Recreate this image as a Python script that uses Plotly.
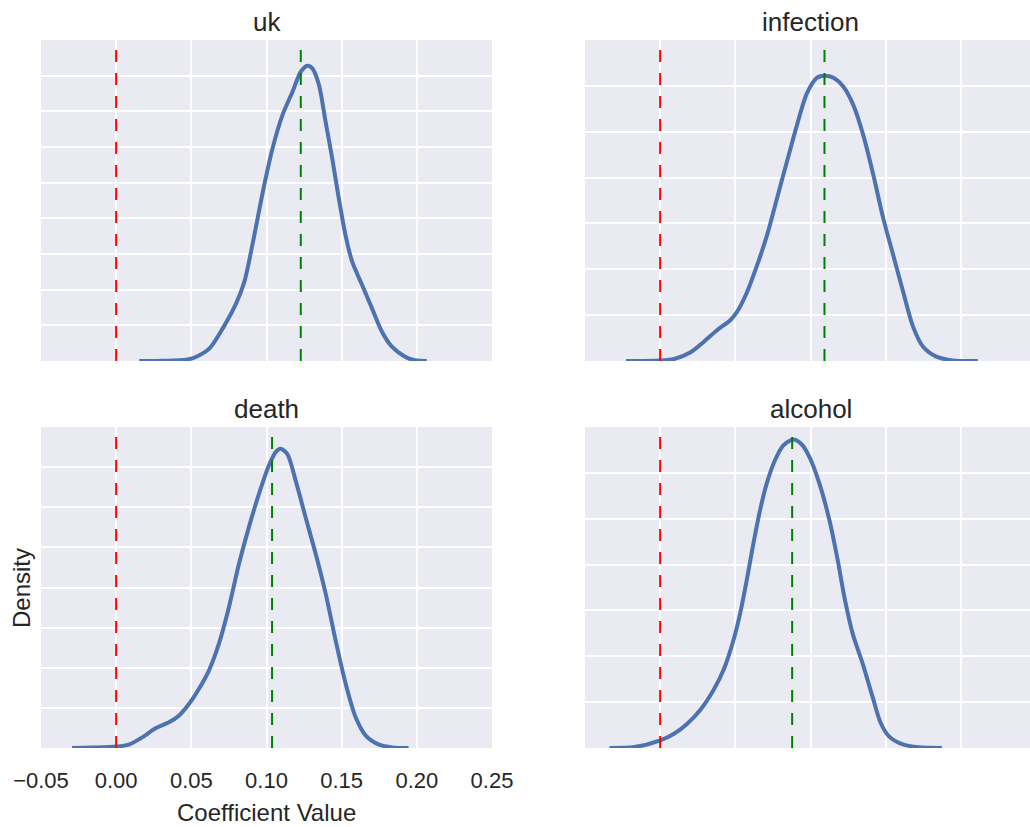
import plotly.graph_objects as go

W, H = 1030, 827

# ---- data ----
panel_names = ["uk", "infection", "death", "alcohol"]

uk_x = [0.0154, 0.0313, 0.0467, 0.0533, 0.0621, 0.0709, 0.0798, 0.0853, 0.0897, 0.0941,
        0.0985, 0.1040, 0.1106, 0.1173, 0.1228, 0.1272, 0.1305, 0.1349, 0.1393, 0.1437,
        0.1481, 0.1525, 0.1570, 0.1636, 0.1702, 0.1768, 0.1834, 0.1922, 0.1988, 0.2066]
uk_y = [0.0, 0.01, 0.07, 0.24, 0.71, 1.83, 3.23, 4.45, 6.13, 8.0,
        9.87, 11.92, 13.79, 15.1, 16.22, 16.56, 16.41, 15.48, 13.42, 11.36,
        9.12, 7.07, 5.57, 4.26, 2.95, 1.64, 0.80, 0.24, 0.04, 0.0]

infection_x = [-0.0227, 0.0, 0.0093, 0.0203, 0.0291, 0.0380, 0.0468, 0.0512, 0.0579, 0.0645,
               0.0711, 0.0777, 0.0843, 0.0910, 0.0976, 0.1042, 0.1097, 0.1153, 0.1219, 0.1285,
               0.1351, 0.1418, 0.1484, 0.1550, 0.1616, 0.1682, 0.1749, 0.1837, 0.1947, 0.2113]
infection_y = [0.0, 0.02, 0.09, 0.38, 0.84, 1.35, 1.79, 2.15, 3.02, 4.18,
               5.49, 7.09, 8.69, 10.29, 11.67, 12.35, 12.44, 12.35, 11.96, 11.16,
               9.85, 8.11, 6.22, 4.62, 3.02, 1.50, 0.62, 0.19, 0.02, 0.0]

death_x = [-0.0293, -0.0160, 0.0, 0.0084, 0.0173, 0.0262, 0.0351, 0.0417, 0.0484, 0.0550,
           0.0617, 0.0683, 0.0750, 0.0817, 0.0883, 0.0950, 0.1016, 0.1061, 0.1094, 0.1138,
           0.1194, 0.1260, 0.1327, 0.1394, 0.1460, 0.1527, 0.1593, 0.1660, 0.1749, 0.1837, 0.1945]
death_y = [0.0, 0.02, 0.07, 0.17, 0.53, 0.98, 1.28, 1.61, 2.19, 2.94,
           3.86, 5.19, 7.02, 9.18, 11.01, 12.67, 14.08, 14.75, 14.91, 14.66,
           13.33, 11.5, 9.68, 7.68, 5.35, 3.19, 1.53, 0.62, 0.17, 0.03, 0.0]

alcohol_x = [-0.0337, -0.0172, 0.0, 0.0092, 0.0180, 0.0268, 0.0356, 0.0422, 0.0488, 0.0532,
             0.0576, 0.0620, 0.0664, 0.0708, 0.0763, 0.0818, 0.0884, 0.0939, 0.0994, 0.1060,
             0.1126, 0.1181, 0.1225, 0.1280, 0.1346, 0.1412, 0.1467, 0.1522, 0.1610, 0.1720, 0.1874]
alcohol_y = [0.0, 0.04, 0.33, 0.62, 1.06, 1.67, 2.54, 3.41, 4.71, 5.87,
             7.32, 8.91, 10.36, 11.52, 12.54, 13.19, 13.45, 13.26, 12.68, 11.52,
             9.93, 8.19, 6.59, 5.0, 3.7, 2.25, 1.09, 0.51, 0.17, 0.03, 0.0]

null_value = [0.0, 0.0, 0.0, 0.0]              # red dashed lines
mean_value = [0.1228, 0.1093, 0.1037, 0.0878]  # green dashed lines
y_max = [18, 14, 16, 14]

x_ticks = [-0.05, 0.0, 0.05, 0.10, 0.15, 0.20, 0.25]
x_tick_labels = ["\u22120.05", "0.00", "0.05", "0.10", "0.15", "0.20", "0.25"]

curves_x = [uk_x, infection_x, death_x, alcohol_x]
curves_y = [uk_y, infection_y, death_y, alcohol_y]

# ---- layout geometry (pixels) ----
left_px = [41, 585, 41, 585]
top_px = [40, 40, 427, 427]
panel_w, panel_h = 451, 321
px_per_unit = panel_w / 0.30

BG = "#EAEAF2"
TXT = "#262626"
BLUE = "#4C72B0"
FONT = "Liberation Sans, Arial, Helvetica, sans-serif"

fig = go.Figure()
layout = dict(
    width=W, height=H,
    margin=dict(l=0, r=0, t=0, b=0, pad=0, autoexpand=False),
    paper_bgcolor="white",
    plot_bgcolor=BG,
    showlegend=False,
    font=dict(family=FONT, color=TXT),
)
shapes = []
annotations = []

for i in range(4):
    n = i + 1
    xa = "xaxis" if n == 1 else f"xaxis{n}"
    ya = "yaxis" if n == 1 else f"yaxis{n}"
    xr = "x" if n == 1 else f"x{n}"
    yr = "y" if n == 1 else f"y{n}"
    x0p = left_px[i]
    x1p = min(W, x0p + panel_w)
    x_end = -0.05 + (x1p - x0p) / px_per_unit
    y0p = top_px[i] + panel_h
    layout[xa] = dict(
        domain=[x0p / W, x1p / W], anchor=yr, range=[-0.05, x_end],
        tickmode="array", tickvals=x_ticks, ticktext=x_tick_labels,
        showticklabels=(i == 2), showgrid=True, gridcolor="white", gridwidth=1.6,
        zeroline=False, showline=False, ticks="", automargin=False,
        tickfont=dict(size=22, color=TXT, family=FONT),
        ticklabelstandoff=17,
    )
    layout[ya] = dict(
        domain=[1 - y0p / H, 1 - top_px[i] / H], anchor=xr, range=[0, y_max[i]],
        dtick=2, tick0=0, showticklabels=False, showgrid=True, gridcolor="white",
        gridwidth=1.6, zeroline=False, showline=False, ticks="", automargin=False,
    )
    fig.add_trace(go.Scatter(
        x=curves_x[i], y=curves_y[i], mode="lines", xaxis=xr, yaxis=yr,
        line=dict(color=BLUE, width=4, shape="spline", smoothing=0.8),
        cliponaxis=True, hoverinfo="skip",
    ))
    for val, col in [(null_value[i], "#FF0000"), (mean_value[i], "#008000")]:
        shapes.append(dict(
            type="line", xref=xr, yref=f"{yr} domain", x0=val, x1=val, y0=0, y1=1,
            line=dict(color=col, width=2, dash="12px,11px"), layer="above",
        ))
    annotations.append(dict(
        text=panel_names[i], xref="paper", yref="paper",
        x=(x0p + panel_w / 2) / W, y=1 - top_px[i] / H,
        xanchor="center", yanchor="bottom", yshift=1, showarrow=False,
        font=dict(size=26, color=TXT, family=FONT),
    ))

annotations.append(dict(
    text="Coefficient Value", xref="paper", yref="paper",
    x=266.5 / W, y=1 - 812 / H, xanchor="center", yanchor="middle",
    showarrow=False, font=dict(size=24, color=TXT, family=FONT),
))
annotations.append(dict(
    text="Density", xref="paper", yref="paper",
    x=21 / W, y=1 - 588 / H, xanchor="center", yanchor="middle", textangle=-90,
    showarrow=False, font=dict(size=24, color=TXT, family=FONT),
))

layout["shapes"] = shapes
layout["annotations"] = annotations
fig.update_layout(**layout)
fig.write_html("out.html")
